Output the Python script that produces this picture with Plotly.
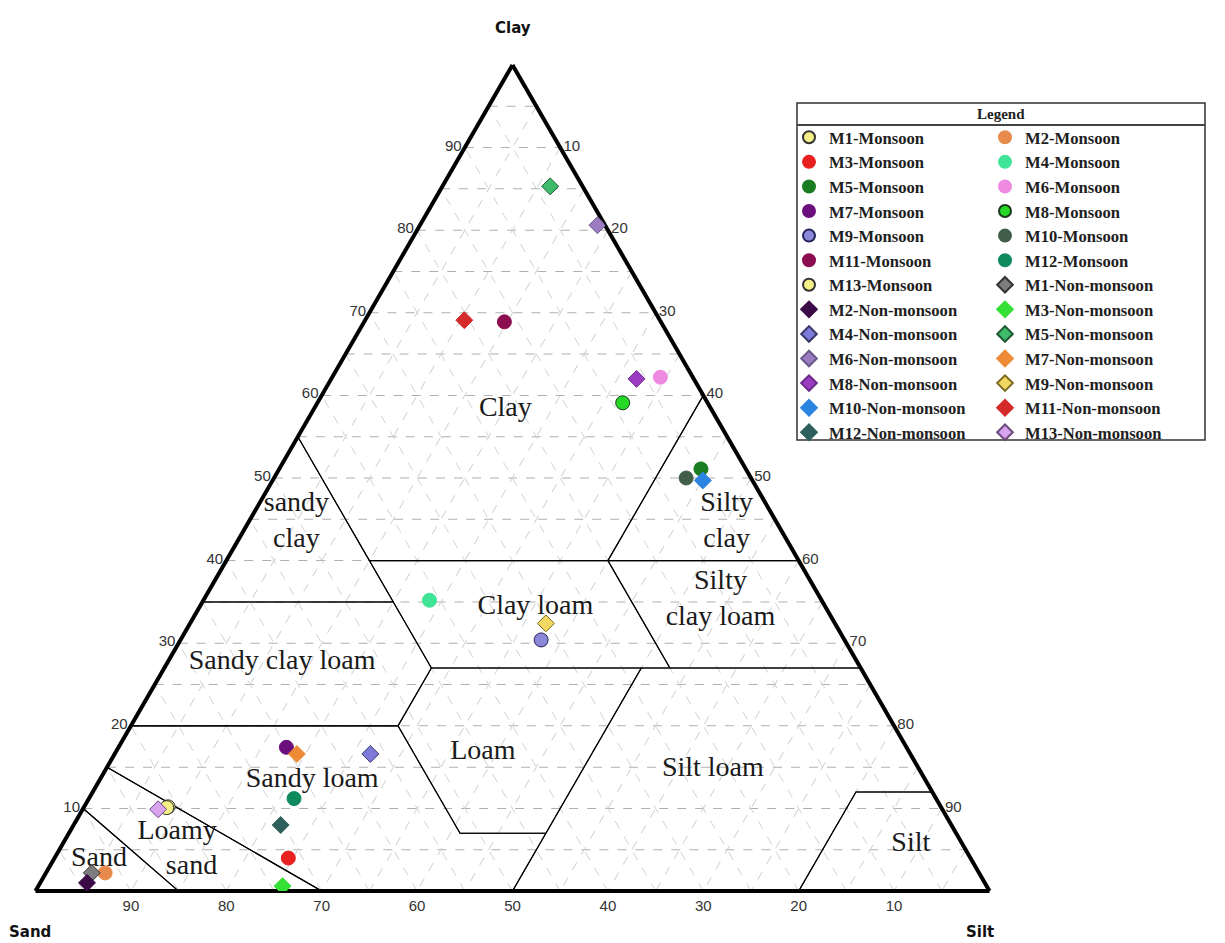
import plotly.graph_objects as go

# ---------------- data (percent) ----------------
samples = ["M1", "M2", "M3", "M4", "M5", "M6", "M7", "M8", "M9", "M10", "M11", "M12", "M13"]

mon_sand = [81.0, 91.6, 71.5, 41.1, 4.7, 3.4, 65.0, 8.9, 31.8, 6.8, 16.4, 67.3, 81.2]
mon_silt = [8.8, 6.2, 24.5, 23.7, 44.2, 34.4, 17.6, 32.0, 37.8, 43.2, 14.7, 21.5, 8.7]
mon_clay = [10.2, 2.2, 4.0, 35.2, 51.1, 62.2, 17.4, 59.1, 30.4, 50.0, 68.9, 11.2, 10.1]

non_sand = [93.0, 94.1, 73.8, 56.6, 3.4, 0.8, 64.3, 6.0, 30.3, 5.2, 20.5, 70.3, 82.2]
non_silt = [4.8, 4.9, 25.6, 26.8, 11.3, 18.6, 19.1, 32.0, 37.3, 45.1, 10.4, 21.7, 7.9]
non_clay = [2.2, 1.0, 0.6, 16.6, 85.3, 80.6, 16.6, 62.0, 32.4, 49.7, 69.1, 8.0, 9.9]

# USDA texture class boundaries, vertices as (sand, silt, clay)
regions = {
    "Sand": [(100, 0, 0), (85, 15, 0), (90, 0, 10)],
    "Loamy sand": [(90, 0, 10), (85, 15, 0), (70, 30, 0), (85, 0, 15)],
    "Sandy loam": [(85, 0, 15), (70, 30, 0), (50, 50, 0), (43, 50, 7), (52, 41, 7), (52, 28, 20), (80, 0, 20)],
    "Loam": [(43, 50, 7), (52, 41, 7), (52, 28, 20), (45, 28, 27), (23, 50, 27)],
    "Silt loam": [(50, 50, 0), (20, 80, 0), (8, 80, 12), (0, 88, 12), (0, 73, 27), (23, 50, 27)],
    "Silt": [(20, 80, 0), (0, 100, 0), (0, 88, 12), (8, 80, 12)],
    "Sandy clay loam": [(80, 0, 20), (52, 28, 20), (45, 28, 27), (45, 20, 35), (65, 0, 35)],
    "Clay loam": [(45, 28, 27), (20, 53, 27), (20, 40, 40), (45, 15, 40)],
    "Silty clay loam": [(20, 53, 27), (0, 73, 27), (0, 60, 40), (20, 40, 40)],
    "Sandy clay": [(65, 0, 35), (45, 20, 35), (45, 0, 55)],
    "Silty clay": [(20, 40, 40), (0, 60, 40), (0, 40, 60)],
    "Clay": [(45, 15, 40), (20, 40, 40), (0, 40, 60), (0, 0, 100), (45, 0, 55)],
}

# class label texts and their anchor points (sand, silt, clay)
label_text = ["Clay", "sandy<br>clay", "Sandy clay loam", "Clay loam", "Silty<br>clay",
              "Silty<br>clay loam", "Loam", "Sandy loam", "Silt loam", "Loamy", "sand", "Sand", "Silt"]
label_sand = [21.6, 50.3, 60.3, 30.4, 5.2, 10.6, 44.7, 64.3, 21.6, 81.6, 82.2, 91.4, 5.4]
label_silt = [20.1, 5.0, 12.0, 35.2, 50.1, 54.2, 38.5, 22.3, 63.6, 11.3, 14.9, 4.7, 88.9]
label_clay = [58.3, 44.7, 27.7, 34.4, 44.7, 35.2, 16.8, 13.4, 14.8, 7.1, 2.9, 3.9, 5.7]

tick_vals = list(range(5, 100, 5))
tick_text = [str(v) if v % 10 == 0 else "" for v in tick_vals]

# ---------------- styles ----------------
mon_colors = ["#f4ef86", "#e88a4c", "#e82020", "#3fe497", "#1b7d22", "#ef8ae2", "#6b0f7d",
              "#25d825", "#8b88d8", "#415e49", "#8c0d50", "#0f8a5f", "#f4ef86"]
mon_lines = ["#333333", "#e88a4c", "#e82020", "#3fe497", "#1b7d22", "#ef8ae2", "#6b0f7d",
             "#1a3a1a", "#22225a", "#415e49", "#8c0d50", "#0f8a5f", "#333333"]
non_colors = ["#7d7d7d", "#3b0b47", "#35e035", "#7e7ad9", "#3dbb6b", "#9b7cc2", "#ee8b36",
              "#9b3bc2", "#f2d862", "#2b84e2", "#d52a2a", "#2f605c", "#d8a4ef"]
non_lines = ["#333333", "#3b0b47", "#35e035", "#3a3a6a", "#1f5a33", "#6a5a8a", "#ee8b36",
             "#6a2a8a", "#7a6a20", "#2b84e2", "#d52a2a", "#2f605c", "#6a4a7a"]

# page body has an 8px margin; figure sized to fit the 1225x943 window
OFF = 8
FW, FH = 1225 - OFF, 943 - OFF


def px(x):
    return (x - OFF) / FW


def py(y):
    return 1 - (y - OFF) / FH


fig = go.Figure()

# class boundaries
for name, verts in regions.items():
    pts = verts + [verts[0]]
    fig.add_trace(go.Scatterternary(
        b=[p[0] for p in pts], c=[p[1] for p in pts], a=[p[2] for p in pts],
        mode="lines", line=dict(color="black", width=1.1),
        showlegend=False, hoverinfo="skip"))

# class labels
fig.add_trace(go.Scatterternary(
    b=label_sand, c=label_silt, a=label_clay, mode="text", text=label_text,
    textfont=dict(family="Liberation Serif", size=28, color="#1a1a1a"),
    showlegend=False, hoverinfo="skip"))

# sample points, interleaved so the two legend columns read row-wise
entries = []
for i, s in enumerate(samples):
    entries.append((f"{s}-Monsoon", mon_sand[i], mon_silt[i], mon_clay[i],
                    "circle", mon_colors[i], mon_lines[i], 14))
for i, s in enumerate(samples):
    entries.append((f"{s}-Non-monsoon", non_sand[i], non_silt[i], non_clay[i],
                    "diamond", non_colors[i], non_lines[i], 13))

for k, (name, sa, si, cl, sym, col, lc, sz) in enumerate(entries):
    fig.add_trace(go.Scatterternary(
        b=[sa], c=[si], a=[cl], mode="markers", name=name,
        marker=dict(symbol=sym, size=sz, color=col, line=dict(color=lc, width=1)),
        legend="legend" if k % 2 == 0 else "legend2"))

axis_common = dict(
    tickvals=tick_vals, ticktext=tick_text, ticks="",
    tickfont=dict(family="Liberation Sans", size=15, color="#333333"),
    linecolor="black", linewidth=4, showline=True,
    showgrid=True, gridwidth=1, layer="below traces",
    title=dict(text=""),
)

legend_font = dict(family="Liberation Serif", size=16.6, color="#1e1e1e", weight="bold")
title_font = dict(family="DejaVu Sans", size=15, color="#111111")


def note(text, x, y, font):
    return dict(text=text, x=px(x), y=py(y), xref="paper", yref="paper",
                xanchor="center", yanchor="middle", showarrow=False, font=font)


fig.update_layout(
    width=FW, height=FH,
    margin=dict(l=0, r=0, t=0, b=0),
    paper_bgcolor="white",
    hovermode=False,
    ternary=dict(
        sum=100,
        domain=dict(x=[px(35.5), px(989.5)], y=[py(891.5), py(64.5)]),
        bgcolor="white",
        aaxis=dict(gridcolor="#b0b0b0", griddash="dash", **axis_common),
        baxis=dict(gridcolor="#d2d2d2", griddash="dash", **axis_common),
        caxis=dict(gridcolor="#d2d2d2", griddash="dash", **axis_common),
    ),
    legend=dict(x=px(789), y=py(120), xanchor="left", yanchor="top",
                bgcolor="rgba(0,0,0,0)", borderwidth=0, font=legend_font,
                tracegroupgap=0, itemsizing="constant"),
    legend2=dict(x=px(985), y=py(120), xanchor="left", yanchor="top",
                 bgcolor="rgba(0,0,0,0)", borderwidth=0, font=legend_font,
                 tracegroupgap=0, itemsizing="constant"),
    shapes=[
        dict(type="rect", xref="paper", yref="paper",
             x0=px(797), x1=px(1205), y0=py(440), y1=py(103),
             line=dict(color="#333333", width=1.5)),
        dict(type="line", xref="paper", yref="paper",
             x0=px(797), x1=px(1205), y0=py(125), y1=py(125),
             line=dict(color="#444444", width=2)),
    ],
    annotations=[
        note("<b>Legend</b>", 1001, 114, dict(family="Liberation Serif", size=15, color="#222222")),
        note("<b>Clay</b>", 513, 28, title_font),
        note("<b>Sand</b>", 30, 932, title_font),
        note("<b>Silt</b>", 980, 932, title_font),
    ],
)

fig.write_html("out.html")
